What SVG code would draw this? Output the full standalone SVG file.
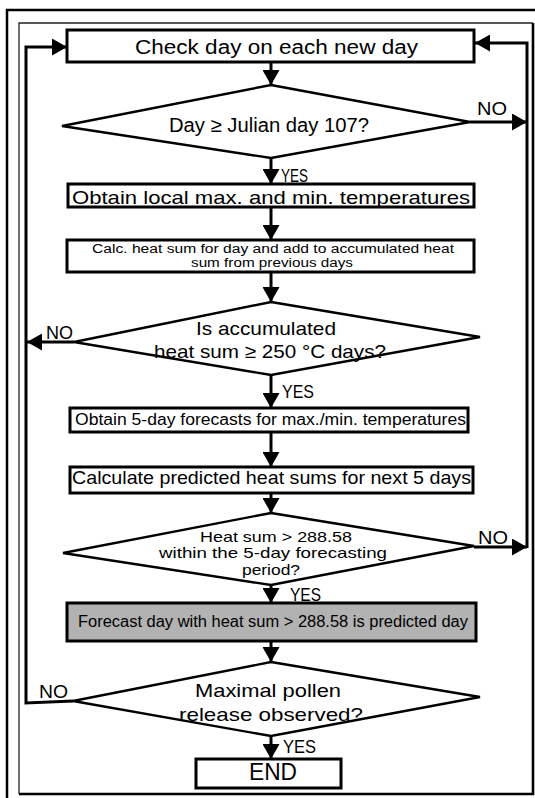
<svg xmlns="http://www.w3.org/2000/svg" width="535" height="798" viewBox="0 0 535 798">
<style>
.bx{fill:#fff;stroke:#000;stroke-width:3}
.gr{fill:#b2b2b2;stroke:#000;stroke-width:3}
.dm{fill:#fff;stroke:#000;stroke-width:2.4;stroke-linejoin:miter}
.ln{fill:none;stroke:#000;stroke-width:3}
text{font-family:"Liberation Sans",Arial,sans-serif;fill:#000}
</style>
<defs>
<marker id="ah" markerUnits="userSpaceOnUse" markerWidth="17" markerHeight="17" refX="15" refY="8.5" orient="auto">
<path d="M0,0 L15,8.5 L0,17 z" fill="#000"/>
</marker>
</defs>
<rect width="535" height="798" fill="#fff"/>
<g id="frame">
<rect x="7" y="10" width="545" height="805" fill="none" stroke="#000" stroke-width="2.5"/>
<path d="M19,794 V23 H533" fill="none" stroke="#222" stroke-width="1.3"/>
<path d="M533,23 V794 H19" fill="none" stroke="#000" stroke-width="2.6"/>
</g>
<g id="connectors">
<path class="ln" d="M271,62 V85" marker-end="url(#ah)"/>
<path class="ln" d="M271,158 V184" marker-end="url(#ah)"/>
<path class="ln" d="M271,207 V240" marker-end="url(#ah)"/>
<path class="ln" d="M271,272 V302" marker-end="url(#ah)"/>
<path class="ln" d="M271,375 V408" marker-end="url(#ah)"/>
<path class="ln" d="M271,432 V467" marker-end="url(#ah)"/>
<path class="ln" d="M271,493 V513" marker-end="url(#ah)"/>
<path class="ln" d="M271,585 V603" marker-end="url(#ah)"/>
<path class="ln" d="M271,641 V662" marker-end="url(#ah)"/>
<path class="ln" d="M271,736 V759" marker-end="url(#ah)"/>
<path class="ln" d="M470,122 H527" marker-end="url(#ah)"/>
<path class="ln" d="M474,547 H527" marker-end="url(#ah)"/>
<path class="ln" d="M527,548 V43 H475" marker-end="url(#ah)"/>
<path class="ln" d="M74,342 H27" marker-end="url(#ah)"/>
<path class="ln" d="M73,701 L26,703 V47 H67" marker-end="url(#ah)"/>
<text x="477" y="115" font-size="19" textLength="30" lengthAdjust="spacingAndGlyphs">NO</text>
<text x="281" y="182" font-size="18" textLength="27" lengthAdjust="spacingAndGlyphs">YES</text>
<text x="46" y="339" font-size="19" textLength="27" lengthAdjust="spacingAndGlyphs">NO</text>
<text x="282" y="398" font-size="18" textLength="32" lengthAdjust="spacingAndGlyphs">YES</text>
<text x="478" y="544" font-size="19" textLength="30" lengthAdjust="spacingAndGlyphs">NO</text>
<text x="290" y="601" font-size="18" textLength="31" lengthAdjust="spacingAndGlyphs">YES</text>
<text x="39" y="698" font-size="19" textLength="29" lengthAdjust="spacingAndGlyphs">NO</text>
<text x="283" y="753" font-size="18" textLength="33" lengthAdjust="spacingAndGlyphs">YES</text>
</g>
<g id="n1">
<rect class="bx" x="67" y="30" width="407" height="32"/>
<text x="135" y="54" font-size="20" textLength="283" lengthAdjust="spacingAndGlyphs">Check day on each new day</text>
</g>
<g id="d1">
<polygon class="dm" points="271,85 470,122 271,158 62,126"/>
<text x="169" y="132" font-size="20" textLength="200" lengthAdjust="spacingAndGlyphs">Day ≥ Julian day 107?</text>
</g>
<g id="n2">
<rect class="bx" x="68" y="184" width="406" height="23"/>
<text x="72" y="204" font-size="19" textLength="398" lengthAdjust="spacingAndGlyphs">Obtain local max. and min. temperatures</text>
</g>
<g id="n3">
<rect class="bx" x="67" y="240" width="407" height="32"/>
<text x="92" y="253" font-size="12.5" textLength="362" lengthAdjust="spacingAndGlyphs">Calc. heat sum for day and add to accumulated heat</text>
<text x="191" y="267" font-size="12.5" textLength="162" lengthAdjust="spacingAndGlyphs">sum from previous days</text>
</g>
<g id="d2">
<polygon class="dm" points="271,302 480,337 271,375 74,342"/>
<text x="196" y="335" font-size="19" textLength="140" lengthAdjust="spacingAndGlyphs">Is accumulated</text>
<text x="154" y="358" font-size="19" textLength="232" lengthAdjust="spacingAndGlyphs">heat sum ≥ 250 °C days?</text>
</g>
<g id="n4">
<rect class="bx" x="70" y="408" width="398" height="24"/>
<text x="75" y="425" font-size="16" textLength="391" lengthAdjust="spacingAndGlyphs">Obtain 5-day forecasts for max./min. temperatures</text>
</g>
<g id="n5">
<rect class="bx" x="70" y="467" width="403" height="26"/>
<text x="72" y="484" font-size="19" textLength="399" lengthAdjust="spacingAndGlyphs">Calculate predicted heat sums for next 5 days</text>
</g>
<g id="d3">
<polygon class="dm" points="271,513 474,546 271,585 63,553"/>
<text x="200" y="542" font-size="15" textLength="152" lengthAdjust="spacingAndGlyphs">Heat sum &gt; 288.58</text>
<text x="159" y="558" font-size="15" textLength="228" lengthAdjust="spacingAndGlyphs">within the 5-day forecasting</text>
<text x="242" y="575" font-size="15" textLength="58" lengthAdjust="spacingAndGlyphs">period?</text>
</g>
<g id="n6">
<rect class="gr" x="67" y="603" width="409" height="38"/>
<text x="78" y="627" font-size="16" textLength="390" lengthAdjust="spacingAndGlyphs">Forecast day with heat sum &gt; 288.58 is predicted day</text>
</g>
<g id="d4">
<polygon class="dm" points="271,662 480,697 271,736 73,701"/>
<text x="195" y="697" font-size="19" textLength="146" lengthAdjust="spacingAndGlyphs">Maximal pollen</text>
<text x="179" y="721" font-size="19" textLength="184" lengthAdjust="spacingAndGlyphs">release observed?</text>
</g>
<g id="n7">
<rect class="bx" x="196" y="759" width="145" height="29"/>
<text x="249" y="780" font-size="23" textLength="48" lengthAdjust="spacingAndGlyphs">END</text>
</g>
</svg>
